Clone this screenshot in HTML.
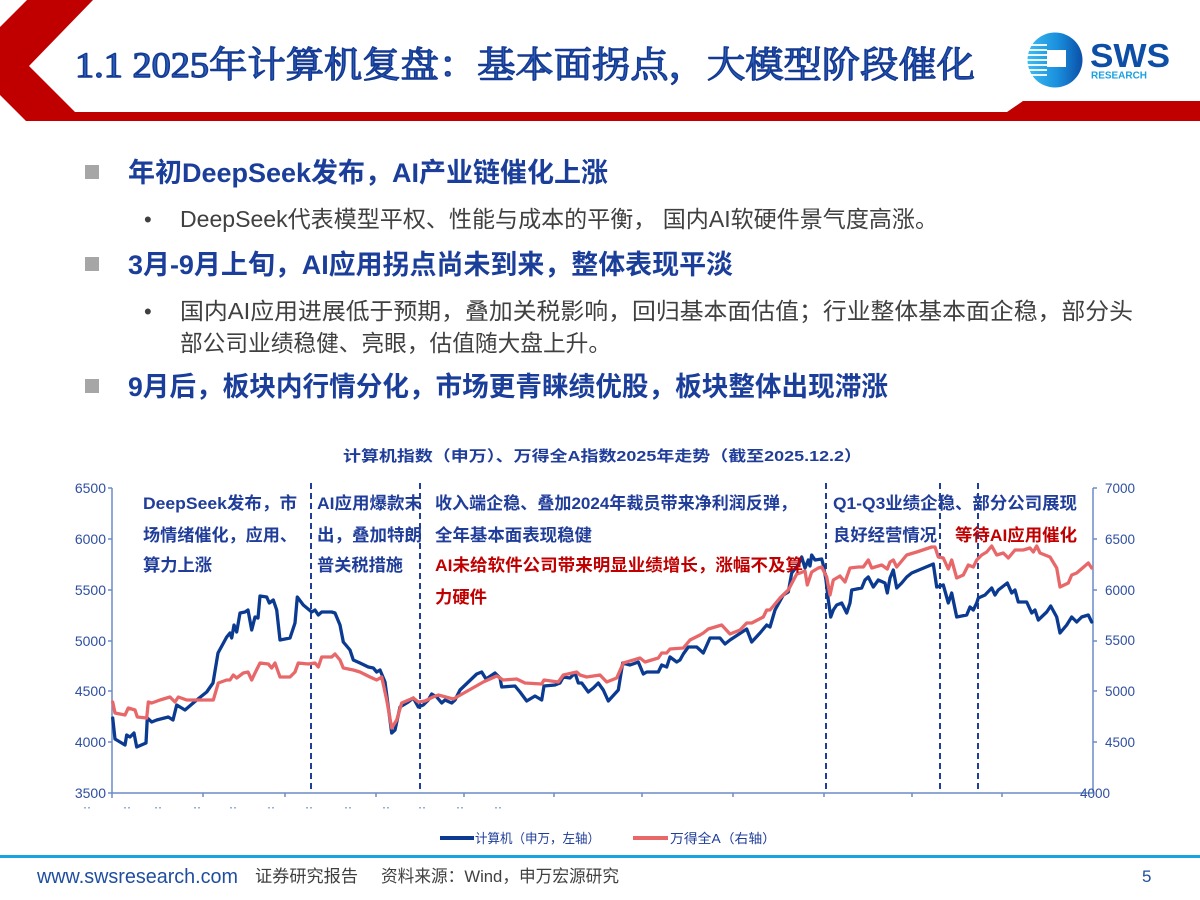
<!DOCTYPE html>
<html>
<head>
<meta charset="utf-8">
<style>
  html,body{margin:0;padding:0;background:#fff;}
  body{width:1200px;height:900px;overflow:hidden;}
  svg{display:block;}
  .sans{font-family:"Liberation Sans","Noto Sans CJK SC",sans-serif;}
  .serif{font-family:"Liberation Serif","Noto Serif CJK SC",serif;}
</style>
</head>
<body>
<svg width="1200" height="900" viewBox="0 0 1200 900" xmlns="http://www.w3.org/2000/svg">
  <defs>
    <linearGradient id="lg" x1="0" y1="0" x2="1" y2="0">
      <stop offset="0" stop-color="#3cbcf2"/>
      <stop offset="0.55" stop-color="#1a8fdc"/>
      <stop offset="1" stop-color="#0b4fa8"/>
    </linearGradient>
  </defs>

  <!-- Header red shape -->
  <polygon points="27,0 93,0 29,66 75,112 1007,112 1023,101 1200,101 1200,121 26,121 0,95 0,27" fill="#C00000"/>

  <!-- Title -->
  <text class="serif" x="75" y="77" font-size="36" fill="#2a5cb8" stroke="#143a92" stroke-width="1.4" stroke-linejoin="round" textLength="900" lengthAdjust="spacingAndGlyphs">1.1 2025年计算机复盘：基本面拐点，大模型阶段催化</text>

  <!-- Logo -->
  <circle cx="1055" cy="60" r="27.5" fill="url(#lg)"/>
  <g fill="#ffffff" opacity="0.9">
    <rect x="1028" y="44" width="19" height="2"/>
    <rect x="1027" y="49" width="20" height="2"/>
    <rect x="1027" y="54" width="20" height="2"/>
    <rect x="1027" y="59" width="20" height="2"/>
    <rect x="1027" y="64" width="20" height="2"/>
    <rect x="1027" y="69" width="20" height="2"/>
    <rect x="1029" y="74" width="18" height="2"/>
  </g>
  <rect x="1047" y="50" width="19" height="17" fill="#ffffff"/>
  <text class="sans" x="1090" y="67" font-size="33" font-weight="bold" fill="#0d4ea6" textLength="80" lengthAdjust="spacingAndGlyphs">SWS</text>
  <text class="sans" x="1091" y="78.5" font-size="10" font-weight="bold" fill="#1aa0e0" textLength="56" lengthAdjust="spacingAndGlyphs">RESEARCH</text>

  <!-- Bullets section -->
  <rect x="85" y="165" width="14" height="14" fill="#A6A6A6"/>
  <text class="sans" x="128" y="182" font-size="27" font-weight="bold" fill="#1a3e9a" textLength="480" lengthAdjust="spacingAndGlyphs">年初DeepSeek发布，AI产业链催化上涨</text>

  <text class="sans" x="144" y="227" font-size="22" fill="#404040">•</text>
  <text class="sans" x="180" y="227" font-size="23" fill="#404040" textLength="758" lengthAdjust="spacingAndGlyphs">DeepSeek代表模型平权、性能与成本的平衡， 国内AI软硬件景气度高涨。</text>

  <rect x="85" y="257" width="14" height="14" fill="#A6A6A6"/>
  <text class="sans" x="128" y="274" font-size="27" font-weight="bold" fill="#1a3e9a" textLength="605" lengthAdjust="spacingAndGlyphs">3月-9月上旬，AI应用拐点尚未到来，整体表现平淡</text>

  <text class="sans" x="144" y="319" font-size="22" fill="#404040">•</text>
  <text class="sans" x="180" y="319" font-size="23" fill="#404040" textLength="953" lengthAdjust="spacingAndGlyphs">国内AI应用进展低于预期，叠加关税影响，回归基本面估值；行业整体基本面企稳，部分头</text>
  <text class="sans" x="180" y="351" font-size="23" fill="#404040" textLength="431" lengthAdjust="spacingAndGlyphs">部公司业绩稳健、亮眼，估值随大盘上升。</text>

  <rect x="85" y="379" width="14" height="14" fill="#A6A6A6"/>
  <text class="sans" x="128" y="396" font-size="27" font-weight="bold" fill="#1a3e9a" textLength="760" lengthAdjust="spacingAndGlyphs">9月后，板块内行情分化，市场更青睐绩优股，板块整体出现滞涨</text>

  <!-- Chart title -->
  <text class="sans" x="343" y="461" font-size="15" font-weight="bold" fill="#1F3D99" textLength="519" lengthAdjust="spacingAndGlyphs">计算机指数（申万）、万得全A指数2025年走势（截至2025.12.2）</text>

  <!-- Axes -->
  <g stroke="#6a8cc8" stroke-width="1.5" fill="none">
    <line x1="112" y1="488" x2="112" y2="793"/>
    <line x1="1093" y1="488" x2="1093" y2="793"/>
    <line x1="112" y1="793" x2="1093" y2="793"/>
    <line x1="108" y1="488" x2="112" y2="488"/>
    <line x1="108" y1="539" x2="112" y2="539"/>
    <line x1="108" y1="590" x2="112" y2="590"/>
    <line x1="108" y1="641" x2="112" y2="641"/>
    <line x1="108" y1="691" x2="112" y2="691"/>
    <line x1="108" y1="742" x2="112" y2="742"/>
    <line x1="108" y1="793" x2="112" y2="793"/>
    <line x1="1093" y1="488" x2="1097" y2="488"/>
    <line x1="1093" y1="539" x2="1097" y2="539"/>
    <line x1="1093" y1="590" x2="1097" y2="590"/>
    <line x1="1093" y1="641" x2="1097" y2="641"/>
    <line x1="1093" y1="691" x2="1097" y2="691"/>
    <line x1="1093" y1="742" x2="1097" y2="742"/>
    <line x1="112" y1="793" x2="112" y2="798"/>
    <line x1="203" y1="793" x2="203" y2="797"/>
    <line x1="285" y1="793" x2="285" y2="797"/>
    <line x1="376" y1="793" x2="376" y2="797"/>
    <line x1="464" y1="793" x2="464" y2="797"/>
    <line x1="554" y1="793" x2="554" y2="797"/>
    <line x1="642" y1="793" x2="642" y2="797"/>
    <line x1="733" y1="793" x2="733" y2="797"/>
    <line x1="824" y1="793" x2="824" y2="797"/>
    <line x1="912" y1="793" x2="912" y2="797"/>
    <line x1="1002" y1="793" x2="1002" y2="797"/>
  </g>

  <!-- Left axis labels -->
  <g class="sans" font-size="14" fill="#2f4f9f" text-anchor="end">
    <text x="106" y="493">6500</text>
    <text x="106" y="544">6000</text>
    <text x="106" y="595">5500</text>
    <text x="106" y="646">5000</text>
    <text x="106" y="696">4500</text>
    <text x="106" y="747">4000</text>
    <text x="106" y="798">3500</text>
  </g>
  <!-- Right axis labels -->
  <g class="sans" font-size="13.5" fill="#2f4f9f">
    <text x="1105" y="493">7000</text>
    <text x="1105" y="544">6500</text>
    <text x="1105" y="595">6000</text>
    <text x="1105" y="645">5500</text>
    <text x="1105" y="696">5000</text>
    <text x="1105" y="747">4500</text>
    <text x="1080" y="798">4000</text>
  </g>

  <!-- tiny x labels -->
  <g fill="#9aaed6">
    <rect x="84" y="807" width="2" height="1.5"/><rect x="88" y="807" width="2" height="1.5"/>
    <rect x="124" y="807" width="2" height="1.5"/><rect x="128" y="807" width="2" height="1.5"/>
    <rect x="155" y="807" width="2" height="1.5"/><rect x="159" y="807" width="2" height="1.5"/>
    <rect x="194" y="807" width="2" height="1.5"/><rect x="198" y="807" width="2" height="1.5"/>
    <rect x="230" y="807" width="2" height="1.5"/><rect x="234" y="807" width="2" height="1.5"/>
    <rect x="268" y="807" width="2" height="1.5"/><rect x="272" y="807" width="2" height="1.5"/>
    <rect x="306" y="807" width="2" height="1.5"/><rect x="310" y="807" width="2" height="1.5"/>
    <rect x="345" y="807" width="2" height="1.5"/><rect x="349" y="807" width="2" height="1.5"/>
    <rect x="383" y="807" width="2" height="1.5"/><rect x="387" y="807" width="2" height="1.5"/>
    <rect x="419" y="807" width="2" height="1.5"/><rect x="423" y="807" width="2" height="1.5"/>
    <rect x="457" y="807" width="2" height="1.5"/><rect x="461" y="807" width="2" height="1.5"/>
    <rect x="495" y="807" width="2" height="1.5"/><rect x="499" y="807" width="2" height="1.5"/>
  </g>

  <!-- Dashed vertical lines -->
  <g stroke="#1F3D99" stroke-width="2" stroke-dasharray="6 4" fill="none">
    <line x1="311" y1="483" x2="311" y2="793"/>
    <line x1="420" y1="483" x2="420" y2="793"/>
    <line x1="826" y1="483" x2="826" y2="793"/>
    <line x1="940" y1="483" x2="940" y2="793"/>
    <line x1="978" y1="483" x2="978" y2="793"/>
  </g>

  <!-- Blue series -->
  <polyline fill="none" stroke="#0b3a91" stroke-width="3.3" stroke-linejoin="round" stroke-linecap="round" points="112.7,718 115,739 125,745 126.7,735 130,737 134,733 136.7,747 146,743 147.3,718 151.7,722 156.7,720 168.3,717 173,720 176.7,705 185,710 196.7,700 206.7,692 213,683 218,653 226.7,637 230,633 231.7,638 234,625 236.7,632 240,613 245,612 248,610 251.7,630 255,617 258,618 260,596 266.7,597 269.3,603 273.3,600 276.7,610 280,640 290,638 295,623 297.3,597 303.3,605 311.7,612 315,610 318.3,615 321.7,612 331.7,612 335,613 340,625 343.3,642 350,650 353.3,660 360,663 368.3,667 373.3,668 376.7,672 380,670 385,682 391.7,733 395,730 400,707 408.3,702 413.3,698 418.3,707 423.3,705 428.3,700 431.7,694 436.7,697 441.7,703 445,700 451.7,703 455,700 460,690 476.7,674 481.7,672 486,679 495,673 500,678 501.7,687 515,686 520,692 526.7,701 535,696 541.7,700 544,686 555,685 560,683 563.3,677 570,678 575,673 578.3,683 581.7,683 588.3,692 593.3,688 598.3,683 603.3,690 608.3,701 618.3,690 622.7,663 630,665 638.3,662 643.3,674 646.7,672 658.3,672 661.7,665 666.7,667 670,657 676.7,662 680,660 683.3,654 688.3,647 696.7,647 703.3,653 710,638 720,638 725,644 730,640 746.7,629 751.7,642 760,633 766.7,625 770,627 775,610 783.3,595 788.3,592 791.7,573 798.3,565 801.7,557 805,568 808.3,560 810,566 811.7,555 815,560 821.7,559 823.3,565 826,580 828.3,600 830.7,617 833.3,610 836.7,605 841.7,603 846.7,613 850,603 851.7,590 861.7,588 865,580 868.3,577 873.3,587 878.3,580 885,583 887.3,593 890,578 893.3,570 896.7,588 901.7,583 906.7,577 911.7,573 933.3,564 936.7,587 943.3,585 948.3,603 951.7,593 956.7,617 966.7,615 970,607 973.3,610 976.7,603 978.3,598 985,595 991.7,588 995,595 998.3,590 1007.3,583 1011.7,593 1015,590 1018.3,602 1026.7,602 1031.7,613 1035,610 1038.3,620 1046.7,612 1050.7,606 1056.7,617 1060,633 1066.7,625 1071.7,617 1076.7,622 1081.7,617 1088.3,615 1091.7,622"/>

  <!-- Red series -->
  <polyline fill="none" stroke="#e8686a" stroke-width="3.3" stroke-linejoin="round" stroke-linecap="round" points="112.7,702 115,713 125,715 128.3,708 135,710 137.3,717 146.7,718 148.3,702 151.7,703 160,700 170,697 175,702 178.3,697 186.7,700 196.7,700 213.3,700 218.3,683 226.7,680 230,680 233.3,675 236.7,678 243.3,673 248,672 251.7,680 255,673 260,663 268.3,664 271.7,668 275,663 280,677 290,677 295,672 298.3,663 308.3,664 315,663 318.3,667 321.7,657 331.7,657 335,654 340,660 343.3,668 353.3,670 360,672 370,677 376.7,680 381.7,677 386.7,700 391.7,728 396.7,720 401.7,703 413.3,698 418.3,702 425,701 433,697 438.3,695 453.3,699 483.3,682 496.7,676 503.3,680 516.7,679 525,683 541.7,684 544,680 558.3,682 563.3,675 576.7,672 580,675 586.7,677 600,675 606.7,682 616.7,678 623.3,663 640,658 645,662 658.3,658 661.7,653 666.7,653 670,649 683.3,648 690,640 700,635 703.3,633 708.3,629 721.7,625 730,634 740,630 746.7,623 751.7,623 763.3,617 766.7,610 770,610 780,598 788.3,590 796.7,574 800,573 805,571 807.3,585 811.7,572 818.3,568 821.7,567 826.7,577 830,595 833.3,580 840,576 845,582 850,568 858.3,567 863.3,567 868.3,560 871.7,568 881.7,565 887.3,569 890,562 893.3,560 896.7,567 906.7,555 916.7,552 931.7,547 935,547 938.3,557 943.3,558 948.3,569 951.7,560 956.7,578 963.3,575 968.3,565 973.3,567 976.7,560 981.7,555 986.7,552 991.7,546 996.7,555 1003.3,553 1008.3,558 1015,550 1023.3,550 1030,548 1033.3,552 1036.7,546 1040,553 1050,557 1056.7,568 1060,587 1068.3,583 1071.7,575 1076.7,573 1088.3,563 1091.7,568"/>

  <!-- Annotations -->
  <g class="sans" font-size="17" font-weight="bold" fill="#1F3D99">
    <text x="143" y="509" textLength="154" lengthAdjust="spacingAndGlyphs">DeepSeek发布，市</text>
    <text x="143" y="541" textLength="154" lengthAdjust="spacingAndGlyphs">场情绪催化，应用、</text>
    <text x="143" y="571" textLength="69" lengthAdjust="spacingAndGlyphs">算力上涨</text>

    <text x="317" y="509" textLength="105" lengthAdjust="spacingAndGlyphs">AI应用爆款末</text>
    <text x="317" y="541" textLength="105" lengthAdjust="spacingAndGlyphs">出，叠加特朗</text>
    <text x="317" y="571" textLength="86" lengthAdjust="spacingAndGlyphs">普关税措施</text>

    <text x="435" y="509" textLength="362" lengthAdjust="spacingAndGlyphs">收入端企稳、叠加2024年裁员带来净利润反弹，</text>
    <text x="435" y="541" textLength="157" lengthAdjust="spacingAndGlyphs">全年基本面表现稳健</text>

    <text x="833" y="509" textLength="244" lengthAdjust="spacingAndGlyphs">Q1-Q3业绩企稳、部分公司展现</text>
    <text x="833" y="541" textLength="104" lengthAdjust="spacingAndGlyphs">良好经营情况</text>
  </g>
  <g class="sans" font-size="17" font-weight="bold" fill="#C00000">
    <text x="435" y="571" textLength="368" lengthAdjust="spacingAndGlyphs">AI未给软件公司带来明显业绩增长，涨幅不及算</text>
    <text x="435" y="603" textLength="52" lengthAdjust="spacingAndGlyphs">力硬件</text>
    <text x="955" y="541" textLength="122" lengthAdjust="spacingAndGlyphs">等待AI应用催化</text>
  </g>

  <!-- Legend -->
  <line x1="440" y1="838" x2="474" y2="838" stroke="#0b3a91" stroke-width="4"/>
  <text class="sans" x="475" y="843" font-size="13" fill="#1F3D99" textLength="125" lengthAdjust="spacingAndGlyphs">计算机（申万，左轴）</text>
  <line x1="633" y1="838" x2="668" y2="838" stroke="#e8686a" stroke-width="4"/>
  <text class="sans" x="670" y="843" font-size="13" fill="#1F3D99" textLength="106" lengthAdjust="spacingAndGlyphs">万得全A（右轴）</text>

  <!-- Footer -->
  <rect x="0" y="855" width="1200" height="3" fill="#17a2e2"/>
  <text class="sans" x="37" y="883" font-size="20" fill="#1F4E9F" textLength="201" lengthAdjust="spacingAndGlyphs">www.swsresearch.com</text>
  <text class="sans" x="255" y="882" font-size="17" fill="#404040" textLength="103" lengthAdjust="spacingAndGlyphs">证券研究报告</text>
  <text class="sans" x="381" y="882" font-size="17" fill="#404040" textLength="238" lengthAdjust="spacingAndGlyphs">资料来源：Wind，申万宏源研究</text>
  <text class="sans" x="1142" y="882" font-size="17" fill="#1F4E9F">5</text>
</svg>
</body>
</html>
